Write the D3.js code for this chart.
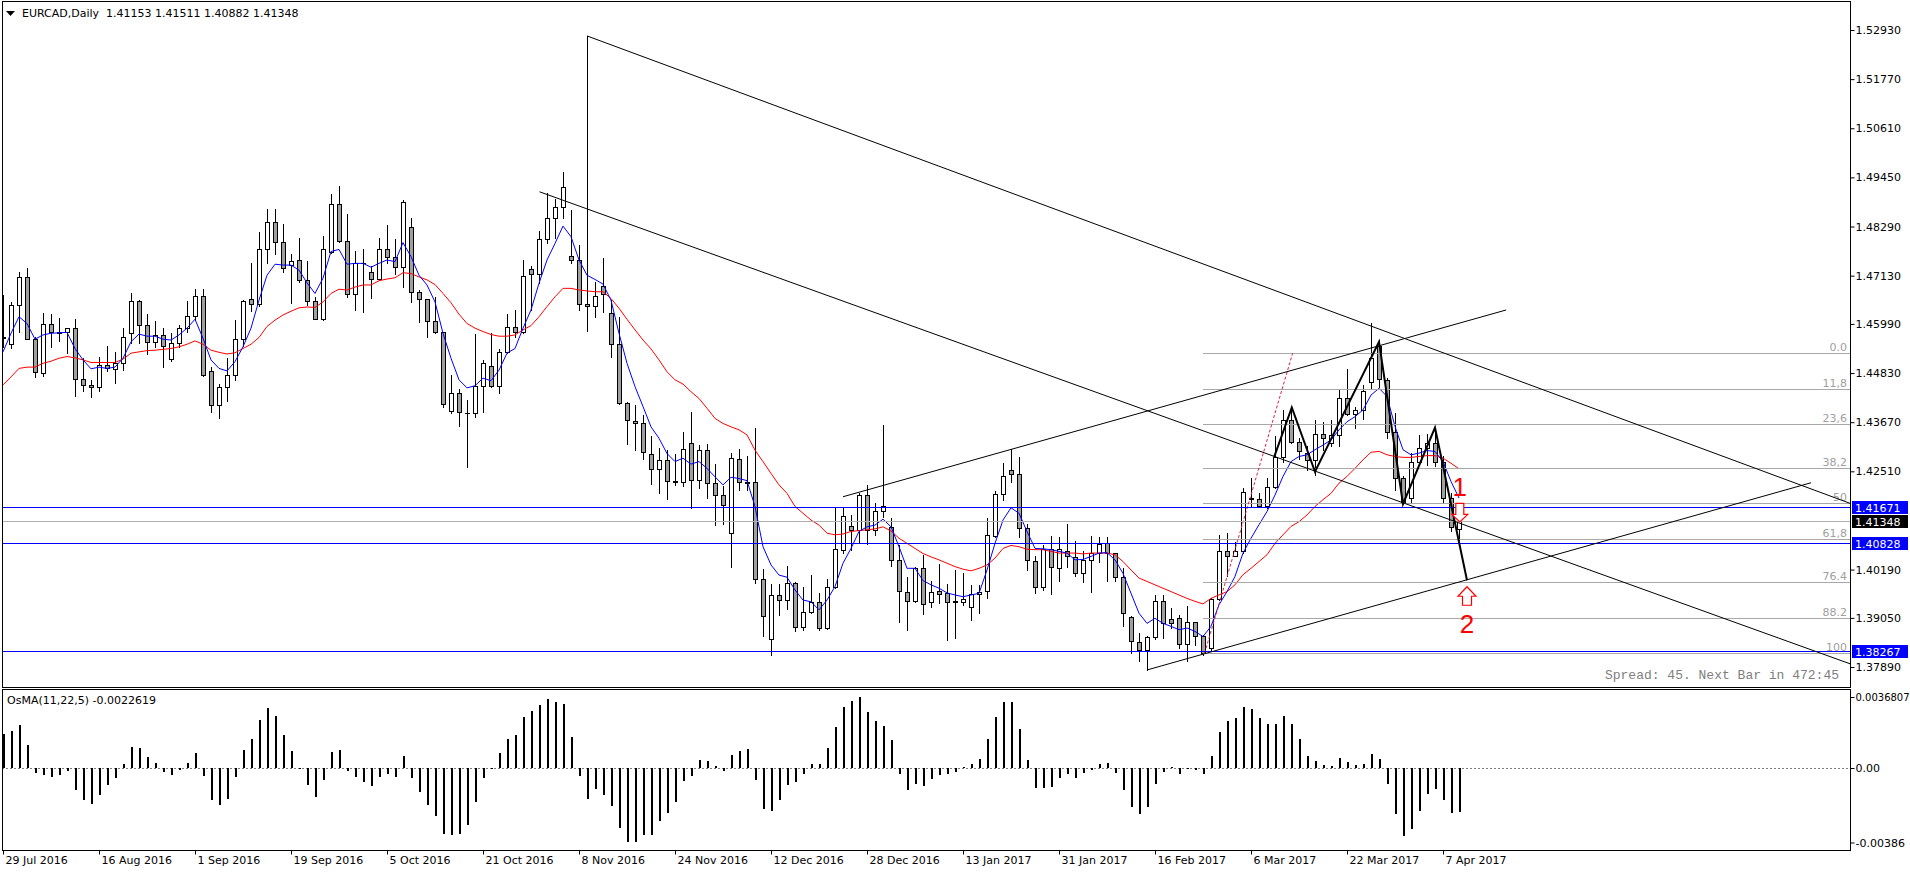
<!DOCTYPE html>
<html>
<head>
<meta charset="utf-8">
<title>EURCAD,Daily</title>
<script src="https://cdn.jsdelivr.net/npm/d3@7"></script>
<style>
  html, body { margin: 0; padding: 0; background: #fff; }
  svg { display: block; }
</style>
</head>
<body>
<div id="chart"></div>
<script>
// ---------- data ----------
var tickBars = [0, 12, 24, 36, 48, 60, 72, 84, 96, 108, 120, 132, 144, 156, 168, 180];
var tickLabels = ["29 Jul 2016", "16 Aug 2016", "1 Sep 2016", "19 Sep 2016", "5 Oct 2016", "21 Oct 2016",
  "8 Nov 2016", "24 Nov 2016", "12 Dec 2016", "28 Dec 2016", "13 Jan 2017", "31 Jan 2017",
  "16 Feb 2017", "6 Mar 2017", "22 Mar 2017", "7 Apr 2017"];

var opens = [1.4565,1.4551,1.4643,1.4709,1.4563,1.4482,1.4600,1.4580,1.4579,1.4589,
  1.4468,1.4454,1.4449,1.4503,1.4493,1.4506,1.4578,1.4652,1.4596,1.4556,
  1.4574,1.4517,1.4553,1.4590,1.4617,1.4666,1.4487,1.4407,1.4451,1.4478,
  1.4563,1.4657,1.4645,1.4777,1.4839,1.4792,1.4739,1.4750,1.4702,1.4652,
  1.4611,1.4770,1.4882,1.4794,1.4669,1.4744,1.4721,1.4704,1.4775,1.4758,
  1.4733,1.4827,1.4674,1.4657,1.4607,1.4579,1.4393,1.4437,1.4389,1.4388,
  1.4453,1.4499,1.4453,1.4532,1.4591,1.4581,1.4729,1.4718,1.4799,1.4848,
  1.4874,1.4759,1.4751,1.4645,1.4641,1.4689,1.4624,1.4551,1.4413,1.4369,
  1.4364,1.4293,1.4256,1.4277,1.4227,1.4226,1.4317,1.4231,1.4301,1.4224,
  1.4195,1.4105,1.4279,1.4226,1.4225,1.3997,1.3854,1.3959,1.3947,1.3987,
  1.3884,1.3918,1.3942,1.3880,1.3977,1.4065,1.4123,1.4112,1.4195,1.4112,
  1.4157,1.4120,1.4042,1.3967,1.3945,1.4022,1.3942,1.3969,1.3963,1.3944,
  1.3943,1.3930,1.3961,1.3968,1.4099,1.4197,1.4253,1.4244,1.4117,1.4040,
  1.3979,1.4067,1.4022,1.4064,1.4048,1.4010,1.4042,1.4058,1.4081,1.4058,
  1.4001,1.3908,1.3848,1.3828,1.3859,1.3946,1.3902,1.3904,1.3844,1.3895,
  1.3862,1.3833,1.3949,1.4064,1.4051,1.4064,1.4187,1.4185,1.4169,1.4213,
  1.4286,1.4372,1.4321,1.4295,1.4278,1.4339,1.4317,1.4337,1.4425,1.4387,
  1.4395,1.4463,1.4546,1.4467,1.4343,1.4235,1.4188,1.4274,1.4306,1.4319,
  1.4274,1.4188,1.41153];

var highs = [1.4667,1.4651,1.4721,1.4730,1.4567,1.4624,1.4622,1.4612,1.4590,1.4610,
  1.4518,1.4467,1.4522,1.4547,1.4533,1.4589,1.4671,1.4655,1.4622,1.4606,
  1.4589,1.4577,1.4596,1.4653,1.4681,1.4681,1.4498,1.4457,1.4518,1.4608,
  1.4655,1.4742,1.4817,1.4870,1.4870,1.4836,1.4763,1.4803,1.4748,1.4663,
  1.4806,1.4906,1.4925,1.4859,1.4772,1.4777,1.4736,1.4801,1.4833,1.4799,
  1.4892,1.4848,1.4679,1.4659,1.4663,1.4581,1.4478,1.4445,1.4419,1.4575,
  1.4515,1.4577,1.4541,1.4622,1.4632,1.4750,1.4736,1.4819,1.4907,1.4893,
  1.4958,1.4868,1.4785,1.5279,1.4699,1.4754,1.4655,1.4616,1.4415,1.4407,
  1.4384,1.4334,1.4305,1.4301,1.4293,1.4343,1.4390,1.4312,1.4315,1.4268,
  1.4217,1.4295,1.4303,1.4288,1.4354,1.4020,1.3985,1.3985,1.4027,1.3990,
  1.3979,1.4006,1.3963,1.3996,1.4165,1.4165,1.4148,1.4201,1.4219,1.4177,
  1.4360,1.4140,1.4077,1.4002,1.4024,1.4053,1.3993,1.4032,1.3986,1.4018,
  1.4010,1.3983,1.3983,1.4140,1.4205,1.4270,1.4304,1.4284,1.4126,1.4050,
  1.4076,1.4099,1.4095,1.4126,1.4087,1.4064,1.4099,1.4097,1.4095,1.4059,
  1.4022,1.3910,1.3869,1.3862,1.3959,1.3959,1.3928,1.3912,1.3933,1.3896,
  1.3865,1.3951,1.4101,1.4105,1.4085,1.4211,1.4235,1.4199,1.4235,1.4335,
  1.4396,1.4404,1.4329,1.4310,1.4372,1.4367,1.4372,1.4443,1.4492,1.4404,
  1.4455,1.4601,1.4561,1.4471,1.4388,1.4239,1.4294,1.4337,1.4339,1.4354,
  1.4287,1.4199,1.41511];

var lows = [1.4545,1.4543,1.4581,1.4563,1.4473,1.4477,1.4545,1.4559,1.4531,1.4430,
  1.4441,1.4426,1.4441,1.4489,1.4460,1.4490,1.4555,1.4555,1.4527,1.4545,
  1.4498,1.4512,1.4544,1.4579,1.4608,1.4477,1.4392,1.4378,1.4418,1.4467,
  1.4548,1.4630,1.4642,1.4744,1.4763,1.4722,1.4649,1.4699,1.4644,1.4610,
  1.4609,1.4766,1.4792,1.4663,1.4632,1.4628,1.4661,1.4703,1.4742,1.4718,
  1.4687,1.4650,1.4604,1.4567,1.4577,1.4404,1.4389,1.4359,1.4262,1.4380,
  1.4392,1.4449,1.4435,1.4530,1.4569,1.4578,1.4632,1.4695,1.4789,1.4801,
  1.4848,1.4742,1.4633,1.4583,1.4615,1.4628,1.4522,1.4411,1.4315,1.4301,
  1.4280,1.4221,1.4199,1.4185,1.4219,1.4216,1.4164,1.4211,1.4187,1.4124,
  1.4126,1.4024,1.4207,1.4207,1.3987,1.3862,1.3817,1.3912,1.3927,1.3874,
  1.3876,1.3916,1.3876,1.3878,1.3975,1.4059,1.4065,1.4083,1.4079,1.4101,
  1.4144,1.4027,1.3896,1.3876,1.3942,1.3914,1.3930,1.3939,1.3853,1.3857,
  1.3935,1.3901,1.3916,1.3951,1.4097,1.4184,1.4225,1.4095,1.4017,1.3963,
  1.3971,1.3962,1.3991,1.4026,1.4003,1.3989,1.3967,1.4036,1.3993,1.3993,
  1.3885,1.3822,1.3802,1.3782,1.3855,1.3857,1.3881,1.3833,1.3803,1.3841,
  1.3818,1.3829,1.3947,1.4003,1.4050,1.4059,1.4168,1.4168,1.4165,1.4211,
  1.4274,1.4317,1.4280,1.4254,1.4243,1.4302,1.4310,1.4310,1.4383,1.4354,
  1.4374,1.4447,1.4449,1.4329,1.4207,1.4176,1.4177,1.4269,1.4266,1.4264,
  1.4177,1.4111,1.40882];

var closes = [1.4569,1.4643,1.4709,1.4564,1.4486,1.4598,1.4579,1.4578,1.4589,1.4468,
  1.4454,1.4449,1.4503,1.4495,1.4506,1.4567,1.4652,1.4596,1.4556,1.4574,
  1.4548,1.4553,1.4590,1.4617,1.4666,1.4478,1.4407,1.4451,1.4478,1.4563,
  1.4652,1.4645,1.4777,1.4839,1.4792,1.4730,1.4748,1.4702,1.4652,1.4611,
  1.4775,1.4882,1.4794,1.4669,1.4744,1.4743,1.4704,1.4775,1.4758,1.4733,
  1.4886,1.4674,1.4657,1.4607,1.4579,1.4411,1.4437,1.4390,1.4388,1.4453,
  1.4507,1.4453,1.4532,1.4591,1.4581,1.4711,1.4718,1.4799,1.4848,1.4874,
  1.4923,1.4750,1.4645,1.4641,1.4666,1.4669,1.4551,1.4413,1.4372,1.4364,
  1.4296,1.4256,1.4277,1.4229,1.4226,1.4303,1.4231,1.4301,1.4224,1.4195,
  1.4171,1.4282,1.4225,1.4224,1.3997,1.3909,1.3959,1.3947,1.3987,1.3884,
  1.3918,1.3942,1.3880,1.3977,1.4067,1.4146,1.4112,1.4195,1.4112,1.4157,
  1.4168,1.4042,1.3968,1.3945,1.4022,1.3938,1.3967,1.3961,1.3942,1.3943,
  1.3950,1.3961,1.3966,1.4100,1.4197,1.4239,1.4244,1.4117,1.4042,1.3979,
  1.4067,1.4025,1.4067,1.4050,1.4010,1.4042,1.4058,1.4079,1.4058,1.4001,
  1.3916,1.3851,1.3828,1.3859,1.3946,1.3892,1.3892,1.3844,1.3895,1.3862,
  1.3822,1.3949,1.4064,1.4051,1.4064,1.4202,1.4185,1.4169,1.4213,1.4286,
  1.4372,1.4321,1.4300,1.4278,1.4339,1.4329,1.4337,1.4425,1.4387,1.4395,
  1.4441,1.4518,1.4468,1.4343,1.4235,1.4177,1.4274,1.4306,1.4319,1.4274,
  1.4188,1.4119,1.41348];

// blue (fast) and red (slow) moving averages
var maFast = [1.4533,1.4577,1.4616,1.4600,1.4563,1.4573,1.4577,1.4578,1.4579,1.4541,
  1.4514,1.4493,1.4497,1.4494,1.4497,1.4518,1.4557,1.4575,1.4570,1.4570,
  1.4563,1.4561,1.4573,1.4589,1.4610,1.4565,1.4514,1.4494,1.4488,1.4510,
  1.4545,1.4589,1.4655,1.4714,1.4740,1.4738,1.4738,1.4726,1.4696,1.4671,
  1.4707,1.4770,1.4775,1.4740,1.4742,1.4742,1.4733,1.4742,1.4750,1.4746,
  1.4791,1.4758,1.4714,1.4691,1.4651,1.4577,1.4518,1.4467,1.4448,1.4453,
  1.4471,1.4465,1.4490,1.4530,1.4541,1.4589,1.4632,1.4695,1.4750,1.4789,
  1.4830,1.4805,1.4750,1.4714,1.4704,1.4693,1.4655,1.4577,1.4506,1.4451,
  1.4404,1.4356,1.4329,1.4293,1.4274,1.4282,1.4268,1.4274,1.4258,1.4238,
  1.4219,1.4237,1.4234,1.4229,1.4168,1.4073,1.4030,1.4006,1.4001,1.3971,
  1.3947,1.3943,1.3924,1.3947,1.3979,1.4034,1.4069,1.4109,1.4120,1.4124,
  1.4138,1.4120,1.4073,1.4022,1.4022,1.3993,1.3983,1.3975,1.3964,1.3959,
  1.3955,1.3959,1.3963,1.4018,1.4081,1.4136,1.4165,1.4152,1.4109,1.4069,
  1.4068,1.4066,1.4062,1.4058,1.4042,1.4043,1.4050,1.4058,1.4059,1.4042,
  1.4010,1.3963,1.3916,1.3892,1.3904,1.3892,1.3885,1.3877,1.3881,1.3873,
  1.3861,1.3885,1.3936,1.3967,1.4003,1.4058,1.4093,1.4125,1.4156,1.4195,
  1.4239,1.4274,1.4286,1.4290,1.4302,1.4313,1.4325,1.4349,1.4368,1.4380,
  1.4396,1.4431,1.4447,1.4428,1.4357,1.4302,1.4290,1.4294,1.4300,1.4298,
  1.4274,1.4227,1.4188];

var maSlow = [1.4455,1.4474,1.4494,1.4497,1.4497,1.4506,1.4511,1.4518,1.4522,1.4519,
  1.4514,1.4508,1.4508,1.4508,1.4508,1.4516,1.4530,1.4533,1.4536,1.4537,
  1.4539,1.4541,1.4545,1.4551,1.4559,1.4551,1.4537,1.4532,1.4528,1.4531,
  1.4541,1.4551,1.4567,1.4593,1.4608,1.4620,1.4629,1.4637,1.4639,1.4638,
  1.4651,1.4671,1.4681,1.4679,1.4686,1.4691,1.4691,1.4701,1.4705,1.4708,
  1.4720,1.4718,1.4710,1.4703,1.4692,1.4671,1.4649,1.4622,1.4600,1.4589,
  1.4581,1.4574,1.4570,1.4570,1.4573,1.4585,1.4595,1.4616,1.4640,1.4663,
  1.4683,1.4683,1.4679,1.4677,1.4675,1.4675,1.4659,1.4636,1.4610,1.4585,
  1.4561,1.4540,1.4514,1.4486,1.4467,1.4457,1.4439,1.4423,1.4400,1.4376,
  1.4364,1.4356,1.4349,1.4337,1.4301,1.4274,1.4246,1.4219,1.4199,1.4168,
  1.4152,1.4136,1.4124,1.4105,1.4101,1.4103,1.4109,1.4111,1.4113,1.4115,
  1.4120,1.4110,1.4093,1.4081,1.4069,1.4057,1.4049,1.4042,1.4034,1.4026,
  1.4020,1.4016,1.4022,1.4030,1.4046,1.4069,1.4076,1.4073,1.4067,1.4066,
  1.4066,1.4062,1.4058,1.4058,1.4058,1.4056,1.4058,1.4058,1.4058,1.4054,
  1.4038,1.4018,1.3999,1.3991,1.3983,1.3975,1.3967,1.3959,1.3951,1.3944,
  1.3938,1.3951,1.3959,1.3967,1.3983,1.4007,1.4022,1.4038,1.4054,1.4081,
  1.4101,1.4121,1.4132,1.4148,1.4168,1.4184,1.4199,1.4223,1.4239,1.4258,
  1.4278,1.4296,1.4298,1.4290,1.4286,1.4284,1.4284,1.4286,1.4288,1.4288,
  1.4282,1.4270,1.4257];

// OsMA(11,22,5) histogram
var osma = [0.00175,0.00192,0.00223,0.00119,-0.00024,-0.00035,-0.00045,-0.00035,-0.00017,-0.00112,
  -0.00166,-0.00185,-0.00138,-0.00090,-0.00050,0.00021,0.00109,0.00104,0.00057,0.00026,
  -0.00019,-0.00035,-0.00009,0.00026,0.00078,-0.00041,-0.00164,-0.00194,-0.00162,-0.00048,
  0.00095,0.00150,0.00251,0.00311,0.00270,0.00171,0.00088,0.00002,-0.00086,-0.00149,
  -0.00060,0.00083,0.00093,-0.00014,-0.00048,-0.00071,-0.00092,-0.00047,-0.00033,-0.00048,
  0.00062,-0.00050,-0.00123,-0.00194,-0.00249,-0.00340,-0.00346,-0.00340,-0.00294,-0.00176,
  -0.00050,-0.00005,0.00078,0.00152,0.00171,0.00264,0.00295,0.00325,0.00356,0.00344,
  0.00332,0.00159,-0.00041,-0.00159,-0.00111,-0.00138,-0.00195,-0.00309,-0.00382,-0.00385,
  -0.00347,-0.00347,-0.00275,-0.00235,-0.00175,-0.00067,-0.00041,0.00043,0.00036,0.00010,
  -0.00016,0.00069,0.00090,0.00100,-0.00060,-0.00214,-0.00223,-0.00166,-0.00086,-0.00074,
  -0.00033,0.00021,0.00021,0.00104,0.00213,0.00318,0.00346,0.00368,0.00290,0.00245,
  0.00218,0.00145,-0.00029,-0.00112,-0.00085,-0.00092,-0.00059,-0.00035,-0.00033,-0.00021,
  0.00003,0.00021,0.00048,0.00149,0.00264,0.00342,0.00342,0.00204,0.00041,-0.00105,
  -0.00105,-0.00100,-0.00054,-0.00033,-0.00050,-0.00028,-0.00012,0.00021,0.00026,-0.00024,
  -0.00112,-0.00200,-0.00237,-0.00200,-0.00083,-0.00021,0.00005,-0.00029,-0.00007,-0.00009,
  -0.00031,0.00062,0.00188,0.00245,0.00257,0.00316,0.00308,0.00257,0.00230,0.00230,
  0.00270,0.00230,0.00149,0.00062,0.00038,0.00016,0.00010,0.00052,0.00031,0.00016,
  0.00021,0.00073,0.00048,-0.00081,-0.00237,-0.00351,-0.00314,-0.00221,-0.00133,-0.00111,
  -0.00164,-0.00235,-0.0022619];

var priceTicks = [1.5293, 1.5177, 1.5061, 1.4945, 1.4829, 1.4713, 1.4599, 1.4483, 1.4367, 1.4251, 1.4019, 1.3905, 1.3789];
var levelPrices = [1.41671, 1.40828, 1.38267];
var bidPrice = 1.41348;
var osmaTicks = [0.0036807, 0, -0.00386];
var osmaTickLabels = ["0.0036807", "0.00", "-0.00386"];

// fibonacci retracement
var fibTop = 1.45296, fibBottom = 1.38219, fibStartBar = 150;
var fibLevels = [0, 11.8, 23.6, 38.2, 50, 61.8, 76.4, 88.2, 100];
var fibLabels = ["0.0", "11,8", "23,6", "38,2", "50", "61,8", "76.4", "88.2", "100"];
var fibBase = [[150.2, 1.38219], [161.2, 1.45296]];

// drawn objects, anchored as [bar, price]
var rayLines = [[[73, 1.5279], [156.09, 1.46982]], [[67.07, 1.4911], [184.6, 1.41114]]];
var segLines = [[[105, 1.4191], [187.9, 1.4632]], [[143, 1.3782], [226, 1.4224]]];
var zigzag = [[158.9, 1.4285], [161.1, 1.4402], [164.0, 1.4250], [172.0, 1.4557],
  [175.0, 1.4174], [179.0, 1.4354], [183.0, 1.3994]];
var marks = [{bar: 182.1, price: 1.41927, text: "1"}, {bar: 183, price: 1.38692, text: "2"}];
var downArrow = {bar: 182.1, price: 1.41754};
var upArrow = {bar: 183, price: 1.39785};

// ---------- layout ----------
var W = 1910, H = 874;
var left = 2, axisX = 1850;
var mainTop = 1, mainBottom = 687, subTop = 689, subBottom = 850;

var x = d3.scaleLinear().domain([0, 182]).range([3, 1459]);
var y = d3.scaleLinear().domain([1.5293, 1.3789]).range([30, 667]);
var yo = d3.scaleLinear().domain([0.0036807, -0.00386]).range([697, 842.5]);

var svg = d3.select("#chart").append("svg")
    .attr("width", W)
    .attr("height", H)
    .style("font-family", "'DejaVu Sans', sans-serif")
    .style("font-size", "11px");

var defs = svg.append("defs");
defs.append("clipPath").attr("id", "clipMain").append("rect")
    .attr("x", left + 1).attr("y", mainTop + 1)
    .attr("width", axisX - left - 1).attr("height", mainBottom - mainTop - 1);
defs.append("clipPath").attr("id", "clipSub").append("rect")
    .attr("x", left + 1).attr("y", subTop + 1)
    .attr("width", axisX - left - 1).attr("height", subBottom - subTop - 1);

var main = svg.append("g").attr("clip-path", "url(#clipMain)");
var sub = svg.append("g").attr("clip-path", "url(#clipSub)");

function px(v) { return Math.round(v) + 0.5; }

//candles
var bars = d3.range(closes.length).map(function(i) {
  return {i: i, o: opens[i], h: highs[i], l: lows[i], c: closes[i]};
});

var candle = main.selectAll(".candle")
    .data(bars)
  .enter().append("g")
    .attr("class", "candle");

candle.append("line")
    .attr("x1", function(d) { return px(x(d.i)); })
    .attr("x2", function(d) { return px(x(d.i)); })
    .attr("y1", function(d) { return Math.round(y(d.h)); })
    .attr("y2", function(d) { return Math.round(y(d.l)) + 1; })
    .attr("stroke", "#000")
    .attr("stroke-width", 1);

candle.append("rect")
    .attr("x", function(d) { return Math.round(x(d.i)) - 1.5; })
    .attr("width", 4)
    .attr("y", function(d) { return px(y(Math.max(d.o, d.c))); })
    .attr("height", function(d) {
      var h = Math.round(y(Math.min(d.o, d.c))) - Math.round(y(Math.max(d.o, d.c)));
      return Math.max(h, 0.01);
    })
    .attr("fill", function(d) { return d.c >= d.o ? "#ffffff" : "#a0a0a0"; })
    .attr("stroke", "#000")
    .attr("stroke-width", 1);

//moving averages
var maLine = d3.line()
    .x(function(d, i) { return x(i); })
    .y(function(d) { return y(d); });

main.append("path").datum(maSlow)
    .attr("d", maLine).attr("fill", "none").attr("stroke", "#ff0000").attr("stroke-width", 1);
main.append("path").datum(maFast)
    .attr("d", maLine).attr("fill", "none").attr("stroke", "#0000ff").attr("stroke-width", 1);

//fibonacci levels
fibLevels.forEach(function(lv, k) {
  var p = fibTop - lv / 100 * (fibTop - fibBottom);
  var yy = px(y(p));
  main.append("line")
      .attr("x1", x(fibStartBar)).attr("x2", axisX)
      .attr("y1", yy).attr("y2", yy)
      .attr("stroke", "#a8a8a8").attr("stroke-width", 1);
  main.append("text")
      .attr("x", axisX - 3).attr("y", yy - 2.5)
      .attr("text-anchor", "end")
      .attr("fill", "#a0a0a0")
      .text(fibLabels[k]);
});

main.append("line")
    .attr("x1", x(fibBase[0][0])).attr("y1", y(fibBase[0][1]))
    .attr("x2", x(fibBase[1][0])).attr("y2", y(fibBase[1][1]))
    .attr("stroke", "#e0204a").attr("stroke-width", 1)
    .attr("stroke-dasharray", "3,2");

//bid line and horizontal levels
main.append("line")
    .attr("x1", left).attr("x2", axisX)
    .attr("y1", px(y(bidPrice))).attr("y2", px(y(bidPrice)))
    .attr("stroke", "#b0b0b0").attr("stroke-width", 1);

main.selectAll(".level")
    .data(levelPrices)
  .enter().append("line")
    .attr("class", "level")
    .attr("x1", left).attr("x2", axisX)
    .attr("y1", function(d) { return px(y(d)); })
    .attr("y2", function(d) { return px(y(d)); })
    .attr("stroke", "#0000ff").attr("stroke-width", 1);

//trend lines
function extend(seg, toBar) {
  var a = seg[0], b = seg[1];
  var k = (b[1] - a[1]) / (b[0] - a[0]);
  return [a, [toBar, a[1] + k * (toBar - a[0])]];
}

rayLines.map(function(s) { return extend(s, 240); }).concat(segLines).forEach(function(s) {
  main.append("line")
      .attr("x1", x(s[0][0])).attr("y1", y(s[0][1]))
      .attr("x2", x(s[1][0])).attr("y2", y(s[1][1]))
      .attr("stroke", "#000").attr("stroke-width", 1);
});

main.append("path").datum(zigzag)
    .attr("d", d3.line().x(function(d) { return x(d[0]); }).y(function(d) { return y(d[1]); }))
    .attr("fill", "none").attr("stroke", "#000").attr("stroke-width", 2);

//red marks
var dx0 = x(downArrow.bar), dy0 = y(downArrow.price);
main.append("path")
    .attr("d", "M" + (dx0 - 4) + "," + dy0 + "H" + (dx0 + 4) + "V" + (dy0 + 11) + "H" + (dx0 + 8) +
      "L" + dx0 + "," + (dy0 + 18.5) + "L" + (dx0 - 8) + "," + (dy0 + 11) + "H" + (dx0 - 4) + "Z")
    .attr("fill", "#fff").attr("stroke", "#ff0000").attr("stroke-width", 1.2);

var ux0 = x(upArrow.bar), uy0 = y(upArrow.price);
main.append("path")
    .attr("d", "M" + ux0 + "," + uy0 + "L" + (ux0 + 9) + "," + (uy0 + 9.5) + "H" + (ux0 + 4.5) +
      "V" + (uy0 + 18.5) + "H" + (ux0 - 4.5) + "V" + (uy0 + 9.5) + "H" + (ux0 - 9) + "Z")
    .attr("fill", "#fff").attr("stroke", "#ff0000").attr("stroke-width", 1.2);

main.selectAll(".mark")
    .data(marks)
  .enter().append("text")
    .attr("class", "mark")
    .attr("x", function(d) { return x(d.bar); })
    .attr("y", function(d) { return y(d.price); })
    .attr("text-anchor", "middle")
    .attr("fill", "#ff0000")
    .style("font-family", "'Liberation Sans', Arial, sans-serif")
    .style("font-size", "26px")
    .text(function(d) { return d.text; });

main.append("text")
    .attr("x", 1839).attr("y", 679)
    .attr("text-anchor", "end")
    .attr("fill", "#808080")
    .style("font-family", "'Liberation Mono', monospace")
    .style("font-size", "13px")
    .text("Spread: 45. Next Bar in 472:45");

//osma histogram
sub.append("line")
    .attr("x1", left).attr("x2", axisX)
    .attr("y1", px(yo(0))).attr("y2", px(yo(0)))
    .attr("stroke", "#808080").attr("stroke-dasharray", "2,2");

sub.selectAll(".osma")
    .data(osma)
  .enter().append("rect")
    .attr("class", "osma")
    .attr("x", function(d, i) { return Math.round(x(i)); })
    .attr("width", 2)
    .attr("y", function(d) { return Math.round(Math.min(yo(d), yo(0))); })
    .attr("height", function(d) { return Math.max(1, Math.abs(Math.round(yo(d)) - Math.round(yo(0)))); })
    .attr("fill", "#000");

sub.append("text")
    .attr("x", 7).attr("y", 704)
    .attr("fill", "#000")
    .text("OsMA(11,22,5) -0.0022619");

//frames
svg.append("rect")
    .attr("x", left + 0.5).attr("y", mainTop + 0.5)
    .attr("width", axisX - left).attr("height", mainBottom - mainTop)
    .attr("fill", "none").attr("stroke", "#000");
svg.append("rect")
    .attr("x", left + 0.5).attr("y", subTop + 0.5)
    .attr("width", axisX - left).attr("height", subBottom - subTop)
    .attr("fill", "none").attr("stroke", "#000");

//title
svg.append("path")
    .attr("d", "M6,11H15L10.5,16Z")
    .attr("fill", "#000");
svg.append("text")
    .attr("x", 22).attr("y", 17)
    .attr("fill", "#000")
    .style("white-space", "pre")
    .text("EURCAD,Daily  1.41153 1.41511 1.40882 1.41348");

//price axis
var yAxis = d3.axisRight(y)
    .tickValues(priceTicks)
    .tickSize(4)
    .tickPadding(1)
    .tickFormat(d3.format(".5f"));

svg.append("g")
    .attr("transform", "translate(" + (axisX + 0.5) + ",0)")
    .call(yAxis)
    .call(function(g) { g.select(".domain").remove(); })
    .attr("font-family", "'DejaVu Sans', sans-serif")
    .attr("font-size", 11);

//price tags on the axis
var tags = levelPrices.map(function(p) { return {p: p, fill: "#0000ff"}; })
    .concat([{p: bidPrice, fill: "#000000"}]);

var tag = svg.selectAll(".tag")
    .data(tags)
  .enter().append("g")
    .attr("class", "tag");

tag.append("rect")
    .attr("x", axisX + 2)
    .attr("y", function(d) { return Math.round(y(d.p)) - 6; })
    .attr("width", 56)
    .attr("height", 13)
    .attr("fill", function(d) { return d.fill; });

tag.append("text")
    .attr("x", axisX + 5)
    .attr("y", function(d) { return Math.round(y(d.p)) + 4.5; })
    .attr("fill", "#fff")
    .text(function(d) { return d3.format(".5f")(d.p); });

//osma axis
var oAxis = d3.axisRight(yo)
    .tickValues(osmaTicks)
    .tickSize(4)
    .tickPadding(1)
    .tickFormat(function(d, i) { return osmaTickLabels[i]; });

svg.append("g")
    .attr("transform", "translate(" + (axisX + 0.5) + ",0)")
    .call(oAxis)
    .call(function(g) { g.select(".domain").remove(); })
    .attr("font-family", "'DejaVu Sans', sans-serif")
    .attr("font-size", 11)
  .selectAll("text")
    .attr("font-size", function(d) { return d > 0 ? 10 : 11; });

//time axis
var xAxis = d3.axisBottom(x)
    .tickValues(tickBars)
    .tickSize(4)
    .tickPadding(2)
    .tickFormat(function(d, i) { return tickLabels[i]; });

svg.append("g")
    .attr("transform", "translate(0," + (subBottom + 0.5) + ")")
    .call(xAxis)
    .call(function(g) { g.select(".domain").remove(); })
    .attr("font-family", "'DejaVu Sans', sans-serif")
    .attr("font-size", 11)
  .selectAll("text")
    .attr("text-anchor", "start")
    .attr("dx", 2);
</script>
</body>
</html>
